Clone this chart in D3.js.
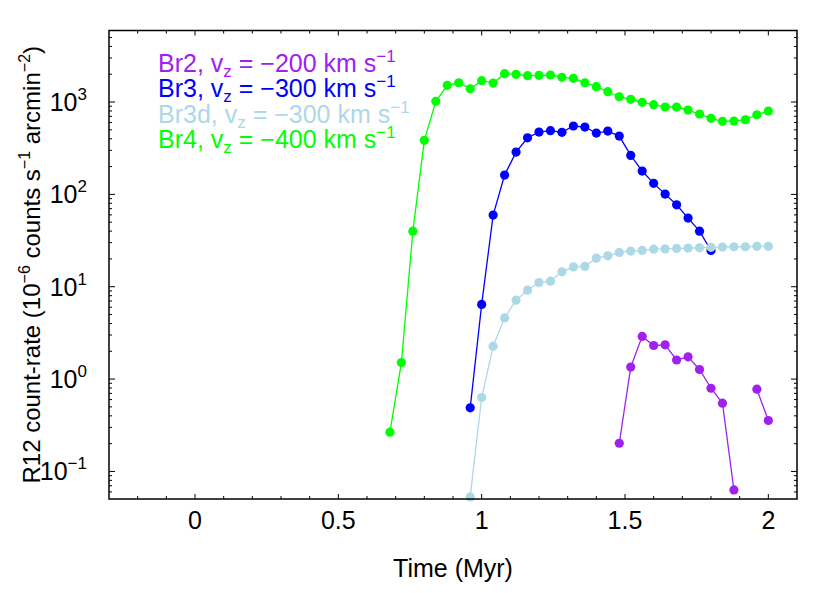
<!DOCTYPE html>
<html><head><meta charset="utf-8">
<script src="https://cdn.jsdelivr.net/npm/d3@7"></script>
<style>body{margin:0;background:#fff} svg text{font-family:"Liberation Sans",Arial,Helvetica,sans-serif;fill:#000}</style>
</head><body><svg id="c" width="830" height="593"></svg>
<script>
// ---- data ----
const timesBr2 = [1.48,1.52,1.56,1.60,1.64,1.68,1.72,1.76,1.80,1.84,1.88,1.92,1.96,2.00];
const valuesBr2 = [0.202,1.35,2.90,2.31,2.35,1.61,1.74,1.27,0.796,0.548,0.063,null,0.778,0.356];
const timesBr3 = [0.96,1.00,1.04,1.08,1.12,1.16,1.20,1.24,1.28,1.32,1.36,1.40,1.44,1.48,1.52,1.56,1.60,1.64,1.68,1.72,1.76,1.80];
const valuesBr3 = [0.488,6.43,59.7,162,287,410,473,489,470,550,536,461,485,428,264,179,131.6,100.7,77.1,55.4,40.0,24.7];
const timesBr3d = [0.96,1.00,1.04,1.08,1.12,1.16,1.20,1.24,1.28,1.32,1.36,1.40,1.44,1.48,1.52,1.56,1.60,1.64,1.68,1.72,1.76,1.80,1.84,1.88,1.92,1.96,2.00];
const valuesBr3d = [0.053,0.632,2.27,4.60,7.16,9.18,11.1,11.5,14.5,16.4,16.6,20.4,21.6,23.5,24.3,24.7,25.5,25.7,26.0,26.2,26.4,26.7,26.9,27.1,27.1,27.4,27.4];
const timesBr4 = [0.68,0.72,0.76,0.80,0.84,0.88,0.92,0.96,1.00,1.04,1.08,1.12,1.16,1.20,1.24,1.28,1.32,1.36,1.40,1.44,1.48,1.52,1.56,1.60,1.64,1.68,1.72,1.76,1.80,1.84,1.88,1.92,1.96,2.00];
const valuesBr4 = [0.266,1.51,40.0,385,1018,1517,1618,1393,1701,1606,2026,1995,1928,1946,1961,1852,1806,1618,1465,1293,1141,1069,992,935,883,883,819,741,666,618,623,643,728,799];
const seriesNames = ["Br2","Br3","Br3d","Br4"];
const seriesVz = ["−200","−300","−300","−400"];
const seriesColors = ["#a020f0","#0000ff","#add8e6","#00ff00"];
const xTickValues = [0,0.5,1,1.5,2];
const xTickLabels = ["0","0.5","1","1.5","2"];
const yTickExponents = [-1,0,1,2,3];
const xDomain = [-0.3,2.1];
const yDomain = [0.0503,5950];

const series = [
  {t:timesBr2,v:valuesBr2},{t:timesBr3,v:valuesBr3},{t:timesBr3d,v:valuesBr3d},{t:timesBr4,v:valuesBr4}
].map((s,i)=>({name:seriesNames[i],vz:seriesVz[i],color:seriesColors[i],
  pts:s.t.map((t,j)=>({t,v:s.v[j]}))}));

// ---- layout ----
const L=109,R=797,T=30.5,B=499;
const FS=25, SS=17;
const svg=d3.select("#c");
const x=d3.scaleLinear().domain(xDomain).range([L,R]);
const y=d3.scaleLog().domain(yDomain).range([B,T]);

// series
const line=d3.line().defined(d=>d.v!=null).x(d=>x(d.t)).y(d=>y(d.v));
series.forEach(s=>{
  const g=svg.append("g");
  g.append("path").attr("d",line(s.pts)).attr("fill","none").attr("stroke",s.color).attr("stroke-width",1.3);
  g.selectAll("circle").data(s.pts.filter(d=>d.v!=null)).join("circle")
    .attr("cx",d=>x(d.t)).attr("cy",d=>y(d.v)).attr("r",4.6).attr("fill",s.color);
});

// frame
svg.append("rect").attr("x",L).attr("y",T).attr("width",R-L).attr("height",B-T)
  .attr("fill","none").attr("stroke","#000").attr("stroke-width",1.5);

// x ticks (minor every 0.1, major every 0.5)
const xMinor=d3.range(-3,22).map(i=>i/10);
const ax=svg.append("g").attr("stroke","#000").attr("stroke-width",1);
xMinor.forEach(v=>{
  const major=Math.abs(v*2-Math.round(v*2))<1e-6;
  const len=major?5:3;
  const px=x(v);
  if(px<=L+0.5||px>=R-0.5) return;
  ax.append("line").attr("x1",px).attr("x2",px).attr("y1",B).attr("y2",B-len);
  ax.append("line").attr("x1",px).attr("x2",px).attr("y1",T).attr("y2",T+len);
});
// y ticks
for(let e=-2;e<=3;e++){
  for(let m=1;m<=9;m++){
    const v=m*Math.pow(10,e);
    if(v<yDomain[0]||v>yDomain[1]) continue;
    const py=y(v), len=m===1?6:3;
    ax.append("line").attr("x1",L).attr("x2",L+len).attr("y1",py).attr("y2",py);
    ax.append("line").attr("x1",R).attr("x2",R-len).attr("y1",py).attr("y2",py);
  }
}

// x tick labels
xTickValues.forEach((v,i)=>{
  svg.append("text").attr("x",x(v)).attr("y",529)
    .attr("text-anchor","middle").attr("font-size",FS).text(xTickLabels[i]);
});
// y tick labels
yTickExponents.forEach(e=>{
  const t=svg.append("text").attr("x",87).attr("y",y(Math.pow(10,e))+9)
    .attr("text-anchor","end").attr("font-size",FS);
  t.append("tspan").text("10");
  t.append("tspan").attr("font-size",SS).attr("dy",-11).text(e<0?"−"+(-e):String(e));
});

// axis titles
svg.append("text").attr("x",(L+R)/2).attr("y",577)
  .attr("text-anchor","middle").attr("font-size",FS).text("Time (Myr)");
const yt=svg.append("text").attr("transform",`translate(40,${(T+B)/2}) rotate(-90)`)
  .attr("text-anchor","middle").attr("font-size",24);
yt.append("tspan").text("R12 count-rate (10");
yt.append("tspan").attr("font-size",16).attr("dy",-10).text("−6");
yt.append("tspan").attr("dy",10).text(" counts s");
yt.append("tspan").attr("font-size",16).attr("dy",-10).text("−1");
yt.append("tspan").attr("dy",10).text(" arcmin");
yt.append("tspan").attr("font-size",16).attr("dy",-10).text("−2");
yt.append("tspan").attr("dy",10).text(")");

// legend
series.forEach((s,i)=>{
  const t=svg.append("text").attr("x",158).attr("y",72+i*25.4)
    .attr("font-size",FS).style("fill",s.color);
  t.append("tspan").text(s.name+", v");
  t.append("tspan").attr("font-size",SS).attr("dy",5).text("z");
  t.append("tspan").attr("dy",-5).text(" = "+s.vz+" km s");
  t.append("tspan").attr("font-size",SS).attr("dy",-10).text("−1");
});
</script></body></html>
